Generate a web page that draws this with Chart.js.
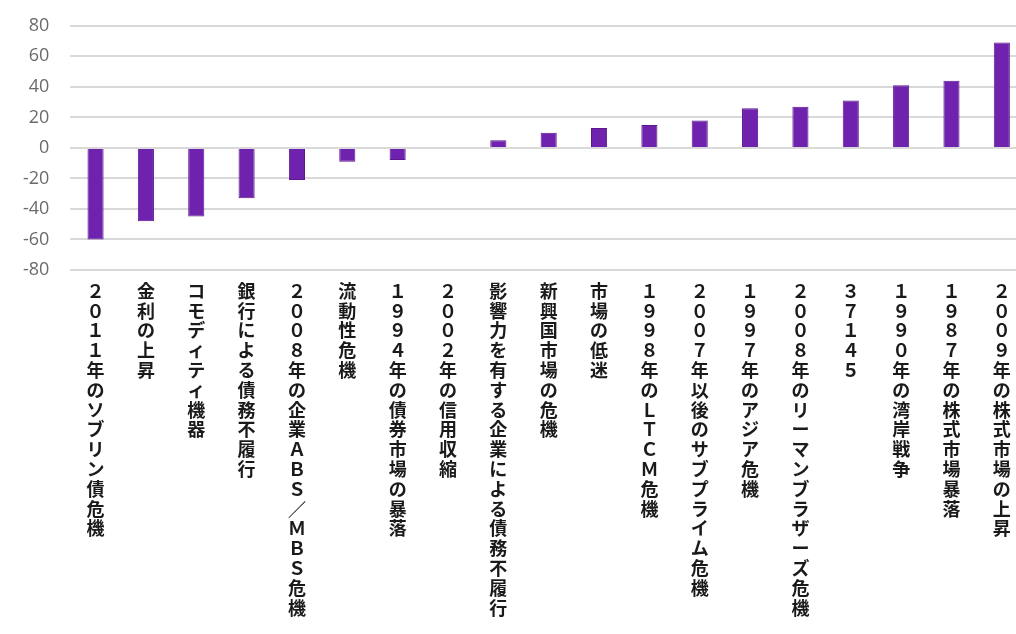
<!DOCTYPE html>
<html>
<head>
<meta charset="utf-8">
<script src="https://cdn.jsdelivr.net/npm/chart.js@4/dist/chart.umd.min.js"></script>
<style>
  html, body { margin: 0; padding: 0; background: #fff; overflow: hidden; }
  #wrap { position: relative; top: -6px; width: 1030px; height: 646px; }
</style>
</head>
<body>
<div id="wrap"><canvas id="c"></canvas></div>
<script>
// categories (vertical text, one character per line)
const categories = [
  "２０１１年のソブリン債危機",
  "金利の上昇",
  "コモディティ機器",
  "銀行による債務不履行",
  "２００８年の企業ＡＢＳ／ＭＢＳ危機",
  "流動性危機",
  "１９９４年の債券市場の暴落",
  "２００２年の信用収縮",
  "影響力を有する企業による債務不履行",
  "新興国市場の危機",
  "市場の低迷",
  "１９９８年のＬＴＣＭ危機",
  "２００７年以後のサブプライム危機",
  "１９９７年のアジア危機",
  "２００８年のリーマンブラザーズ危機",
  "３７１４５",
  "１９９０年の湾岸戦争",
  "１９８７年の株式市場暴落",
  "２００９年の株式市場の上昇"
];
const values = [-60, -48, -45, -33, -21, -9, -8, 0, 5, 10, 13, 15, 18, 26, 27, 31, 41, 44, 69];
const yTicks = [80, 60, 40, 20, 0, -20, -40, -60, -80];

const labels = categories.map(s => Array.from(s));

new Chart(document.getElementById("c"), {
  type: "bar",
  data: {
    labels: labels,
    datasets: [{
      data: values,
      backgroundColor: "#6f22ad",
      borderColor: "#5a1a8e",
      borderWidth: 1,
      barPercentage: 0.64,
      categoryPercentage: 0.5
    }]
  },
  options: {
    responsive: true,
    maintainAspectRatio: false,
    animation: false,
    layout: { padding: { top: 8, right: 3, left: 2, bottom: 0 } },
    plugins: { legend: { display: false }, tooltip: { enabled: false } },
    scales: {
      x: {
        grid: { display: false },
        border: { display: false },
        afterFit: axis => { axis.height = 370; },
        ticks: {
          autoSkip: false,
          maxRotation: 0,
          minRotation: 0,
          padding: 3,
          color: "#1a1a1a",
          font: { family: "'Noto Sans CJK JP', sans-serif", size: 18, weight: "bold", lineHeight: 1.1 }
        }
      },
      y: {
        min: -80,
        max: 80,
        afterBuildTicks: axis => { axis.ticks = yTicks.map(v => ({ value: v })); },
        grid: { color: "#d9d9d9", lineWidth: 2, drawTicks: false },
        border: { display: false },
        ticks: {
          padding: 21,
          color: "#6b6b6b",
          font: { family: "'Open Sans', sans-serif", size: 18 }
        }
      }
    }
  }
});
</script>
</body>
</html>
